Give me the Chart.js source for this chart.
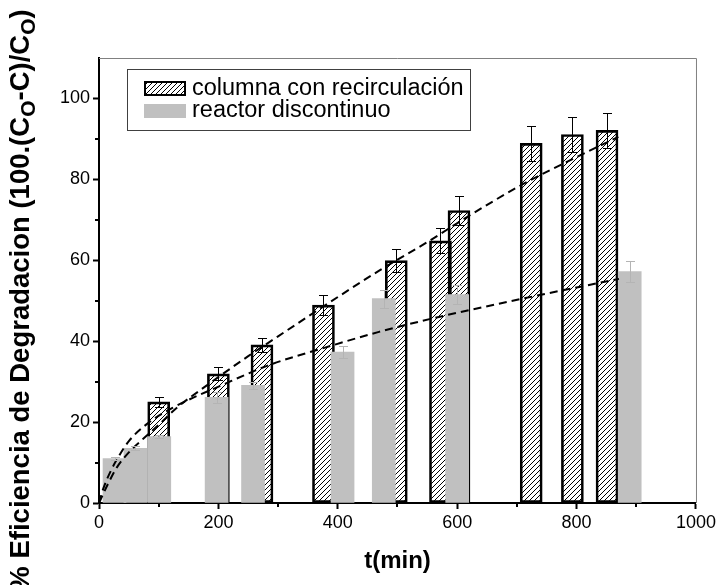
<!DOCTYPE html>
<html>
<head>
<meta charset="utf-8">
<script src="https://cdn.jsdelivr.net/npm/chart.js@4.4.1/dist/chart.umd.min.js"></script>
<style>
  body { margin: 0; background: #fff; }
  canvas { display: block; }
</style>
</head>
<body>
<canvas id="chart" width="719" height="585"></canvas>
<script>
// columna con recirculación (hatched bars)
const colTimes = [100, 200, 273, 376, 498, 572, 603, 724, 793, 851];
const colValues = [25.0, 31.9, 39.1, 48.9, 59.9, 64.8, 72.3, 88.9, 91.1, 92.1];
const colErrors = [1.2, 1.6, 1.8, 2.4, 2.9, 3.1, 3.6, 4.3, 4.4, 4.4];

// reactor discontinuo (gray bars)
const batchTimes = [26, 61, 101, 197, 258, 408, 477, 600, 889];
const batchValues = [11.0, 13.5, 16.4, 26.1, 29.1, 37.3, 50.5, 51.5, 57.2];
const batchErrors = [0.4, 0.5, 0.4, 1.3, 0.8, 1.5, 2.2, 2.3, 2.5];

// dashed trend curves
const colFitT = [0, 15, 30, 50, 75, 100, 130, 180, 250, 300, 375, 470, 550, 620, 710, 800, 870];
const colFitY = [0, 4.7, 8.8, 12.5, 16, 19.3, 23.5, 29, 36.3, 41.2, 48.5, 57.5, 64.5, 71, 78.8, 85.5, 90.5];
const batchFitT = [0, 7, 20, 35, 50, 80, 123, 207, 285, 374, 469, 558, 709, 871];
const batchFitY = [0, 3.5, 8, 12, 15.3, 19.5, 23.5, 29.2, 34.1, 38.2, 42.3, 45.6, 50.5, 55.4];

const xTicks = [0, 200, 400, 600, 800, 1000];
const yTicks = [0, 20, 40, 60, 80, 100];

const legendLabels = ['columna con recirculación', 'reactor discontinuo'];
const xTitle = 't(min)';

const GRAY = '#c0c0c0';
const FONT = '"Liberation Sans", Arial, sans-serif';

const canvas = document.getElementById('chart');
const ctx = canvas.getContext('2d');

function makeHatch() {
    const c = document.createElement('canvas');
    c.width = 5;
    c.height = 5;
    const g = c.getContext('2d');
    g.strokeStyle = '#000';
    g.lineWidth = 1;
    g.beginPath();
    g.moveTo(0, 5); g.lineTo(5, 0);
    g.moveTo(-1, 1); g.lineTo(1, -1);
    g.moveTo(4, 6); g.lineTo(6, 4);
    g.stroke();
    return ctx.createPattern(c, 'repeat');
}
const hatch = makeHatch();

const toXY = (xs, ys) => xs.map((x, i) => ({ x: x, y: ys[i] }));

const extrasPlugin = {
    id: 'extras',
    beforeDraw(chart) {
        const c = chart.ctx;
        c.save();
        c.fillStyle = '#fff';
        c.fillRect(0, 0, chart.width, chart.height);
        c.restore();
    },
    afterDatasetsDraw(chart) {
        const c = chart.ctx;
        const xs = chart.scales.x, ys = chart.scales.y;
        const drawErr = (times, vals, errs, color, cap) => {
            c.save();
            c.strokeStyle = color;
            c.lineWidth = 1;
            times.forEach((t, i) => {
                const px = Math.round(xs.getPixelForValue(t)) + 0.5;
                const top = Math.round(ys.getPixelForValue(vals[i] + errs[i])) + 0.5;
                const bot = Math.round(ys.getPixelForValue(vals[i] - errs[i])) + 0.5;
                c.beginPath();
                c.moveTo(px, top); c.lineTo(px, bot);
                c.moveTo(px - cap, top); c.lineTo(px + cap, top);
                c.moveTo(px - cap, bot); c.lineTo(px + cap, bot);
                c.stroke();
            });
            c.restore();
        };
        drawErr(colTimes, colValues, colErrors, '#000', 4.5);
        drawErr(batchTimes, batchValues, batchErrors, '#b4b4b4', 4.5);
    },
    afterDraw(chart) {
        const c = chart.ctx;
        const a = chart.chartArea;
        const xs = chart.scales.x, ys = chart.scales.y;
        c.save();

        // top and right frame
        c.strokeStyle = '#808080';
        c.lineWidth = 1;
        c.beginPath();
        c.moveTo(a.left, a.top + 0.5); c.lineTo(a.right + 0.5, a.top + 0.5);
        c.lineTo(a.right + 0.5, a.bottom);
        c.stroke();

        // minor ticks
        c.strokeStyle = '#000';
        c.lineWidth = 2;
        c.beginPath();
        for (let v = 100; v < 1000; v += 200) {
            const px = Math.round(xs.getPixelForValue(v));
            c.moveTo(px, a.bottom); c.lineTo(px, a.bottom + 4);
        }
        for (let v = 10; v < 110; v += 20) {
            const py = Math.round(ys.getPixelForValue(v));
            c.moveTo(a.left, py); c.lineTo(a.left - 4, py);
        }
        c.stroke();

        // legend
        c.strokeStyle = '#404040';
        c.lineWidth = 1;
        c.strokeRect(127.5, 69.5, 343, 61);
        c.fillStyle = hatch;
        c.fillRect(145, 82, 40, 13);
        c.strokeStyle = '#000';
        c.lineWidth = 2;
        c.strokeRect(145, 82, 40, 13);
        c.fillStyle = GRAY;
        c.fillRect(144, 104, 42, 14);
        c.fillStyle = '#000';
        c.font = '23.5px ' + FONT;
        c.textBaseline = 'middle';
        c.textAlign = 'left';
        c.fillText(legendLabels[0], 192, 89);
        c.fillText(legendLabels[1], 192, 111);

        // x title
        c.font = 'bold 24px ' + FONT;
        c.textAlign = 'center';
        c.fillText(xTitle, (a.left + a.right) / 2, 561);

        // y title with subscripts
        const size = 27.5;
        const parts = [
            { t: '% Eficiencia de Degradacion (100.(C' },
            { t: 'O', sub: true },
            { t: '-C)/C' },
            { t: 'O', sub: true },
            { t: ')' }
        ];
        const fontFor = p => 'bold ' + (p.sub ? Math.round(size * 0.75) : size) + 'px ' + FONT;
        let total = 0;
        parts.forEach(p => { c.font = fontFor(p); p.w = c.measureText(p.t).width; total += p.w; });
        c.translate(21, 300);
        c.rotate(-Math.PI / 2);
        c.textAlign = 'left';
        let x = -total / 2;
        parts.forEach(p => {
            c.font = fontFor(p);
            c.fillText(p.t, x, p.sub ? size * 0.3 : 0);
            x += p.w;
        });
        c.restore();
    }
};

new Chart(ctx, {
    type: 'bar',
    data: {
        datasets: [
            {
                type: 'line',
                data: toXY(colFitT, colFitY),
                borderColor: '#000',
                borderWidth: 2,
                borderDash: [8, 5],
                pointRadius: 0,
                fill: false,
                cubicInterpolationMode: 'monotone',
                order: 0
            },
            {
                type: 'line',
                data: toXY(batchFitT, batchFitY),
                borderColor: '#000',
                borderWidth: 2,
                borderDash: [8, 5],
                pointRadius: 0,
                fill: false,
                cubicInterpolationMode: 'monotone',
                order: 0
            },
            {
                label: legendLabels[1],
                data: toXY(batchTimes, batchValues),
                backgroundColor: GRAY,
                borderWidth: 0,
                barThickness: 23,
                grouped: false,
                order: 1
            },
            {
                label: legendLabels[0],
                data: toXY(colTimes, colValues),
                backgroundColor: hatch,
                borderColor: '#000',
                borderWidth: 2,
                borderSkipped: false,
                barThickness: 22,
                grouped: false,
                order: 2
            }
        ]
    },
    options: {
        responsive: false,
        animation: false,
        devicePixelRatio: 1,
        layout: { padding: { top: 58, right: 21, left: 0, bottom: 0 } },
        plugins: {
            legend: { display: false },
            tooltip: { enabled: false }
        },
        scales: {
            x: {
                type: 'linear',
                min: 0,
                max: 1000,
                offset: false,
                afterBuildTicks: s => { s.ticks = xTicks.map(v => ({ value: v })); },
                afterFit: s => { s.height = 82; },
                ticks: { color: '#000', font: { family: FONT, size: 18 }, padding: 3, maxRotation: 0, callback: v => String(v) },
                grid: { drawOnChartArea: false, offset: false, tickLength: 6, tickWidth: 2, tickColor: '#000' },
                border: { color: '#000', width: 2 }
            },
            y: {
                type: 'linear',
                min: 0,
                max: 110,
                afterBuildTicks: s => { s.ticks = yTicks.map(v => ({ value: v })); },
                afterFit: s => { s.width = 99; },
                ticks: { color: '#000', font: { family: FONT, size: 18 }, padding: 3, callback: v => String(v) },
                grid: { drawOnChartArea: false, tickLength: 6, tickWidth: 2, tickColor: '#000' },
                border: { color: '#000', width: 2 }
            }
        }
    },
    plugins: [extrasPlugin]
});
</script>
</body>
</html>
